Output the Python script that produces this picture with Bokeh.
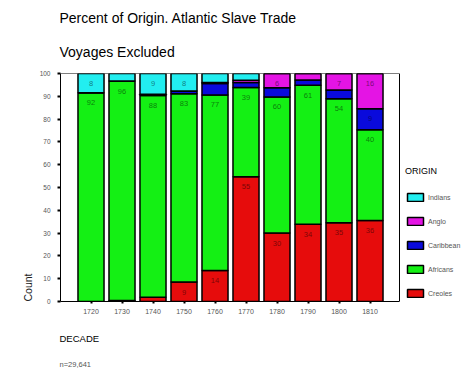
from bokeh.plotting import figure
from bokeh.models import (ColumnDataSource, Range1d, FixedTicker, Legend, LegendItem, Title)
from bokeh.core.properties import value
from bokeh.embed import file_html
from bokeh.resources import INLINE

decades = ["1720", "1730", "1740", "1750", "1760", "1770", "1780", "1790", "1800", "1810"]
creoles = [0.0, 0.4, 1.9, 8.5, 13.6, 54.7, 30.0, 33.9, 34.5, 35.5]
africans = [91.6, 96.3, 88.4, 82.6, 77.0, 39.2, 59.7, 61.0, 54.4, 39.8]
caribbean = [0.0, 0.0, 0.6, 1.2, 5.0, 2.1, 4.1, 2.3, 3.9, 9.2]
anglo = [0.0, 0.0, 0.0, 0.0, 0.4, 1.0, 6.2, 2.8, 7.2, 15.5]
indians = [8.4, 3.3, 9.1, 7.7, 4.0, 3.0, 0.0, 0.0, 0.0, 0.0]

series_names = ["Creoles", "Africans", "Caribbean", "Anglo", "Indians"]
series_values = [creoles, africans, caribbean, anglo, indians]
colors = ["#E60C0C", "#14F014", "#0A0ADC", "#E414E4", "#22EEF0"]
y_ticks = [0, 10, 20, 30, 40, 50, 60, 70, 80, 90, 100]

FONT = "Liberation Sans"

# plot box (in data units) and the extra room to its right for the legend
x_lo, x_hi = -0.984, 9.952
x_end = 12.371
y_lo, y_hi = 0, 100

xs = list(range(len(decades)))
data = {"x": xs}
for n, v in zip(series_names, series_values):
    data[n] = v
source = ColumnDataSource(data)

p = figure(width=474, height=379, output_backend="svg", toolbar_location=None,
           x_range=Range1d(x_lo, x_end), y_range=Range1d(y_lo, y_hi),
           min_border_left=60, min_border_right=0, min_border_top=73, min_border_bottom=78,
           title=None)
p.background_fill_color = "white"
p.border_fill_color = "white"
p.outline_line_color = None
p.xgrid.visible = False
p.ygrid.visible = False

renderers = p.vbar_stack(series_names, x="x", width=0.84, color=colors,
                         line_color="black", line_width=1.5, source=source)

# top and right edges of the plot box
p.segment(x0=[x_lo, x_hi], y0=[y_hi, y_lo], x1=[x_hi, x_hi], y1=[y_hi, y_hi],
          line_color="black", line_width=1)

# segment labels
lx, ly, lt = [], [], []
for i in xs:
    cum = 0.0
    for v in series_values:
        v_i = v[i]
        cum += v_i
        r = int(v_i + 0.5)
        if r >= 6:
            lx.append(i)
            ly.append(cum)
            lt.append(str(r))
lsrc = ColumnDataSource(dict(x=lx, y=ly, t=lt))
p.text(x="x", y="y", text="t", source=lsrc, text_align="center", text_baseline="middle",
       y_offset=10, text_font=value(FONT), text_font_size="7.5px",
       text_color="black", text_alpha=0.5)

# axes
p.yaxis.ticker = FixedTicker(ticks=y_ticks)
p.yaxis.minor_tick_line_color = None
p.yaxis.major_tick_in = 0
p.yaxis.major_tick_out = 3
p.yaxis.major_tick_line_width = 2
p.yaxis.major_label_standoff = 7
p.yaxis.major_label_text_font = FONT
p.yaxis.major_label_text_font_size = "6.5px"
p.yaxis.major_label_text_color = "#555555"
p.yaxis.axis_line_color = "black"

p.xaxis.ticker = FixedTicker(ticks=xs)
p.xaxis.bounds = (x_lo, x_hi)
p.xaxis.major_label_overrides = {i: d for i, d in zip(xs, decades)}
p.xaxis.minor_tick_line_color = None
p.xaxis.major_tick_in = 0
p.xaxis.major_tick_out = 2
p.xaxis.major_tick_line_width = 2
p.xaxis.major_label_standoff = 5
p.xaxis.major_label_text_font = FONT
p.xaxis.major_label_text_font_size = "7px"
p.xaxis.major_label_text_color = "#555555"
p.xaxis.axis_line_color = "black"

# legend (inside the extended frame, right of the plot box)
items = [LegendItem(label=series_names[k], renderers=[renderers[k]]) for k in [4, 3, 2, 1, 0]]
legend = Legend(items=items, location=(345, 3), title="ORIGIN",
                title_text_font=FONT, title_text_font_size="9px", title_text_color="black",
                title_text_font_style="normal", title_standoff=16,
                label_text_font=FONT, label_text_font_size="7px", label_text_color="#555555",
                glyph_width=20, glyph_height=10, label_height=10, label_standoff=3,
                spacing=14, padding=0, margin=0, border_line_color=None,
                background_fill_alpha=0)
p.add_layout(legend, "center")

# titles
p.add_layout(Title(text="Voyages Excluded", align="left", offset=-1, standoff=28,
                   text_font=FONT, text_font_size="14px", text_font_style="normal",
                   text_color="black"), "above")
p.add_layout(Title(text="Percent of Origin. Atlantic Slave Trade", align="left", offset=-1,
                   standoff=4, text_font=FONT, text_font_size="14px",
                   text_font_style="normal", text_color="black"), "above")
p.add_layout(Title(text="DECADE", align="left", offset=-1, standoff=28,
                   text_font=FONT, text_font_size="9.5px", text_font_style="normal",
                   text_color="black"), "below")
p.add_layout(Title(text="n=29,641", align="left", offset=-1, standoff=1,
                   text_font=FONT, text_font_size="7.5px", text_font_style="normal",
                   text_color="#555555"), "below")
p.add_layout(Title(text="Count", align="left", offset=0, standoff=6,
                   text_font=FONT, text_font_size="10.5px", text_font_style="normal",
                   text_color="#222222"), "left")

open("out.html", "w").write(file_html(p, INLINE))
